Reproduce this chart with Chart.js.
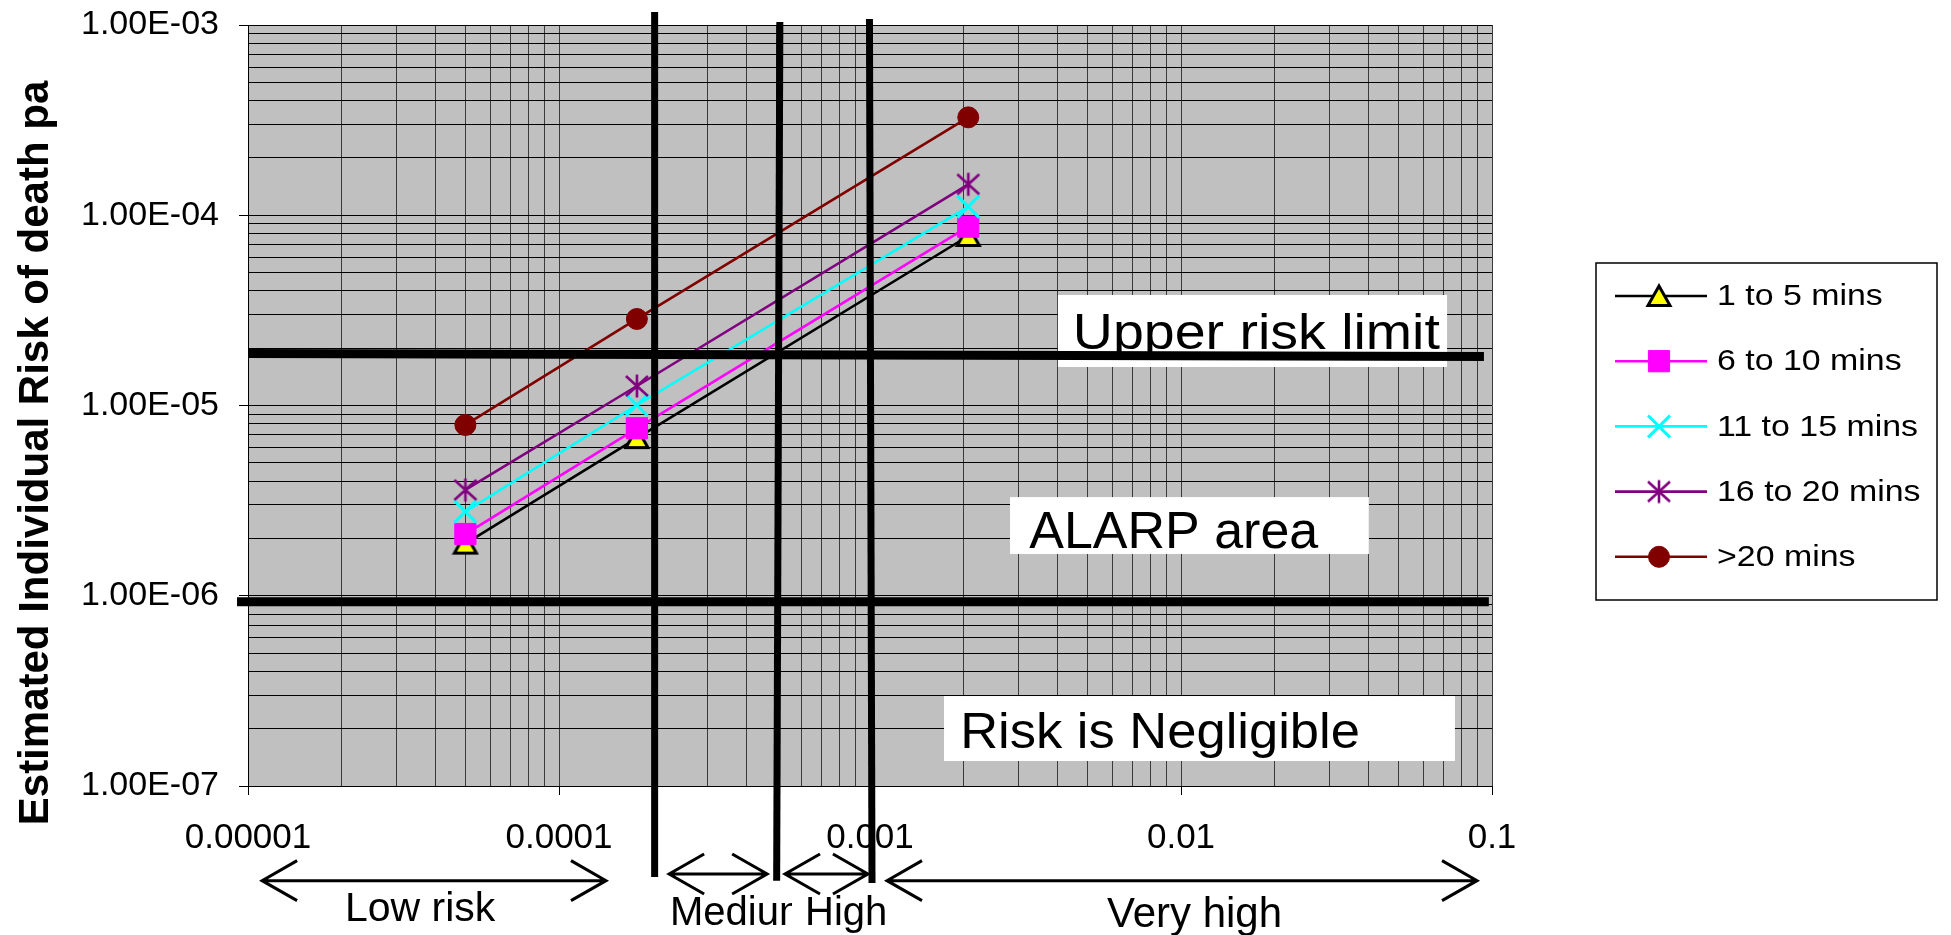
<!DOCTYPE html>
<html>
<head>
<meta charset="utf-8">
<script src="https://cdn.jsdelivr.net/npm/chart.js@4.4.0/dist/chart.umd.min.js"></script>
<style>
html, body { margin: 0; padding: 0; background: #fff; }
#wrap { width: 1951px; height: 935px; }
</style>
</head>
<body>
<div id="wrap"><canvas id="risk_chart" width="1951" height="935"></canvas></div>
<script>
// frequency of event (x) and estimated individual risk (y)
const frequency = [5e-5, 1.78e-4, 2.07e-3]
const series_names = ['1 to 5 mins', '6 to 10 mins', '11 to 15 mins', '16 to 20 mins', '>20 mins']
const risk_1_5 = [1.88e-6, 6.74e-6, 7.78e-5]
const risk_6_10 = [2.11e-6, 7.59e-6, 8.71e-5]
const risk_11_15 = [2.77e-6, 1.006e-5, 1.11e-4]
const risk_16_20 = [3.60e-6, 1.266e-5, 1.455e-4]
const risk_over_20 = [7.90e-6, 2.85e-5, 3.27e-4]

const x_ticks = [1e-5, 1e-4, 1e-3, 1e-2, 1e-1]
const x_tick_labels = ['0.00001', '0.0001', '0.001', '0.01', '0.1']
const y_ticks = [1e-7, 1e-6, 1e-5, 1e-4, 1e-3]
const y_tick_labels = ['1.00E-07', '1.00E-06', '1.00E-05', '1.00E-04', '1.00E-03']

// hand drawn thick lines, [x, y] end points in data units
const upper_limit_line = [[1e-5, 1.877e-5], [0.0942, 1.81e-5]]
const lower_limit_line = [[9.22e-6, 9.3e-7], [0.0977, 9.3e-7]]
const low_medium_line = [[2.03e-4, 1.17e-3], [2.03e-4, 3.32e-8]]
const medium_high_line = [[5.13e-4, 1.037e-3], [5.01e-4, 3.18e-8]]
const high_vhigh_line = [[9.96e-4, 1.075e-3], [1.015e-3, 3.09e-8]]

// band arrows under the axis: [from x, to x, y]
const band_arrows = [[1.11e-5, 1.416e-4, 3.18e-8], [2.26e-4, 4.67e-4, 3.45e-8], [5.33e-4, 9.85e-4, 3.45e-8], [1.134e-3, 0.0895, 3.18e-8]]
const band_names = ['Low risk', 'Medium', 'High', 'Very high']
const band_label_x = [2.05e-5, 2.275e-4, 6.18e-4, 5.78e-3]
const band_label_y = [1.94e-8, 1.86e-8, 1.86e-8, 1.82e-8]
const medium_clip_x = 5.61e-4

// white text boxes in the plot: [x0, x1, y0, y1, text x, text y]
const box_texts = ['Upper risk limit', 'ALARP area', 'Risk is Negligible']
const box_areas = [
    [4.02e-3, 0.0717, 3.81e-5, 1.594e-5, 4.49e-3, 1.97e-5],
    [2.82e-3, 0.0402, 3.30e-6, 1.657e-6, 3.25e-3, 1.78e-6],
    [1.73e-3, 0.0760, 2.97e-7, 1.353e-7, 1.95e-3, 1.584e-7]
]

const FONT = '"Liberation Sans", Arial, sans-serif'

function make_triangle() {
    const c = document.createElement('canvas')
    c.width = 28
    c.height = 26
    const g = c.getContext('2d')
    g.beginPath()
    g.moveTo(14, 3)
    g.lineTo(25, 22.5)
    g.lineTo(3, 22.5)
    g.closePath()
    g.fillStyle = '#ffff00'
    g.fill()
    g.lineWidth = 3
    g.strokeStyle = '#000'
    g.stroke()
    return c
}

function make_asterisk() {
    const c = document.createElement('canvas')
    c.width = 26
    c.height = 26
    const g = c.getContext('2d')
    g.strokeStyle = '#800080'
    g.lineWidth = 2.6
    g.beginPath()
    g.moveTo(13, 1.5); g.lineTo(13, 24.5)
    g.moveTo(2, 3); g.lineTo(24, 23)
    g.moveTo(2, 23); g.lineTo(24, 3)
    g.stroke()
    return c
}

const triangle_img = make_triangle()
const asterisk_img = make_asterisk()

function points(xs, ys) {
    return xs.map((x, i) => ({x: x, y: ys[i]}))
}
function pairs(list) {
    return list.map(p => ({x: p[0], y: p[1]}))
}

const series_styles = [
    {color: '#000000', pointStyle: triangle_img, radius: 11, bg: '#ffff00', bw: 0},
    {color: '#ff00ff', pointStyle: 'rect', radius: 15, bg: '#ff00ff', bw: 1},
    {color: '#00ffff', pointStyle: 'crossRot', radius: 15.5, bg: '#00ffff', bw: 3},
    {color: '#800080', pointStyle: asterisk_img, radius: 11, bg: '#800080', bw: 0},
    {color: '#800000', pointStyle: 'circle', radius: 10.5, bg: '#800000', bw: 1}
]
const series_values = [risk_1_5, risk_6_10, risk_11_15, risk_16_20, risk_over_20]

const datasets = series_values.map((vals, i) => ({
    label: series_names[i],
    data: points(frequency, vals),
    borderColor: series_styles[i].color,
    borderWidth: 2.6,
    pointStyle: series_styles[i].pointStyle,
    pointRadius: series_styles[i].radius,
    pointBackgroundColor: series_styles[i].bg,
    pointBorderColor: series_styles[i].color,
    pointBorderWidth: series_styles[i].bw,
    order: 50 - i * 10
}))

function thick_line(list, width) {
    return {
        label: '',
        data: pairs(list),
        borderColor: '#000',
        borderWidth: width,
        pointRadius: 0,
        borderCapStyle: 'butt',
        clip: false,
        order: 0
    }
}
datasets.push(thick_line(upper_limit_line, 9))
datasets.push(thick_line(lower_limit_line, 9))
datasets.push(thick_line(low_medium_line, 7))
datasets.push(thick_line(medium_high_line, 7))
datasets.push(thick_line(high_vhigh_line, 7))

function log_ticks(majors) {
    const out = []
    for (let i = 0; i < majors.length - 1; i++) {
        for (let k = 1; k <= 9; k++) out.push({value: majors[i] * k, major: k === 1})
    }
    out.push({value: majors[majors.length - 1], major: true})
    return out
}

function stretched_text(ctx, text, x, y, font, sx) {
    ctx.save()
    ctx.font = font
    ctx.translate(x, y)
    ctx.scale(sx, 1)
    ctx.fillText(text, 0, 0)
    ctx.restore()
}

const background = {
    id: 'background',
    beforeDraw(chart) {
        const ctx = chart.ctx
        const a = chart.chartArea
        ctx.save()
        ctx.fillStyle = '#fff'
        ctx.fillRect(0, 0, chart.width, chart.height)
        ctx.fillStyle = '#c0c0c0'
        ctx.fillRect(a.left, a.top, a.right - a.left, a.bottom - a.top)
        ctx.restore()
    }
}

const text_boxes = {
    id: 'text_boxes',
    beforeDatasetsDraw(chart) {
        const ctx = chart.ctx
        const xs = chart.scales.x
        const ys = chart.scales.y
        const sizes = [[50, 1.11], [52, 1.0], [50, 1.05]]
        ctx.save()
        box_areas.forEach((b, i) => {
            const x0 = xs.getPixelForValue(b[0])
            const x1 = xs.getPixelForValue(b[1])
            const y0 = ys.getPixelForValue(b[2])
            const y1 = ys.getPixelForValue(b[3])
            ctx.fillStyle = '#fff'
            ctx.fillRect(x0, y0, x1 - x0, y1 - y0)
            ctx.fillStyle = '#000'
            ctx.textAlign = 'left'
            ctx.textBaseline = 'alphabetic'
            stretched_text(ctx, box_texts[i], xs.getPixelForValue(b[4]), ys.getPixelForValue(b[5]),
                sizes[i][0] + 'px ' + FONT, sizes[i][1])
        })
        ctx.restore()
    }
}

const annotations = {
    id: 'annotations',
    afterDraw(chart) {
        const ctx = chart.ctx
        const xs = chart.scales.x
        const ys = chart.scales.y
        ctx.save()

        // band arrows and labels below the axis
        ctx.strokeStyle = '#000'
        ctx.lineWidth = 3
        ctx.lineCap = 'butt'
        ctx.lineJoin = 'miter'
        band_arrows.forEach(a => {
            const x0 = xs.getPixelForValue(a[0])
            const x1 = xs.getPixelForValue(a[1])
            const y = ys.getPixelForValue(a[2])
            ctx.beginPath()
            ctx.moveTo(x0, y); ctx.lineTo(x1, y)
            ctx.moveTo(x0 + 35, y - 20); ctx.lineTo(x0, y); ctx.lineTo(x0 + 35, y + 20)
            ctx.moveTo(x1 - 35, y - 20); ctx.lineTo(x1, y); ctx.lineTo(x1 - 35, y + 20)
            ctx.stroke()
        })
        ctx.fillStyle = '#000'
        ctx.textAlign = 'left'
        ctx.textBaseline = 'alphabetic'
        const band_fonts = [41, 40, 40, 42]
        band_names.forEach((name, i) => {
            const x = xs.getPixelForValue(band_label_x[i])
            const y = ys.getPixelForValue(band_label_y[i])
            ctx.save()
            if (name === 'Medium') {
                const cx = xs.getPixelForValue(medium_clip_x)
                ctx.beginPath()
                ctx.rect(x - 5, y - 60, cx - x + 5, 90)
                ctx.clip()
            }
            ctx.font = band_fonts[i] + 'px ' + FONT
            ctx.fillText(name, x, y)
            ctx.restore()
        })

        // y axis title
        ctx.save()
        ctx.translate(36, 453)
        ctx.rotate(-Math.PI / 2)
        ctx.textAlign = 'center'
        ctx.textBaseline = 'middle'
        ctx.font = 'bold 42px ' + FONT
        ctx.fillText('Estimated Individual Risk of death pa', 0, 0)
        ctx.restore()

        // legend
        const lx = 1596, ly = 263, lw = 341, lh = 337
        ctx.fillStyle = '#fff'
        ctx.fillRect(lx, ly, lw, lh)
        ctx.strokeStyle = '#000'
        ctx.lineWidth = 1.5
        ctx.strokeRect(lx, ly, lw, lh)
        series_names.forEach((name, i) => {
            const st = series_styles[i]
            const y = 296 + i * 65.2
            ctx.strokeStyle = st.color
            ctx.lineWidth = 2.6
            ctx.beginPath()
            ctx.moveTo(1615, y)
            ctx.lineTo(1707, y)
            ctx.stroke()
            ctx.fillStyle = st.bg
            ctx.strokeStyle = st.color
            ctx.lineWidth = st.bw
            Chart.helpers.drawPoint(ctx, {pointStyle: st.pointStyle, radius: st.radius, rotation: 0, borderWidth: st.bw}, 1659, y)
            ctx.fillStyle = '#000'
            ctx.textBaseline = 'middle'
            stretched_text(ctx, name, 1717, y + 1, '30px ' + FONT, 1.13)
        })
        ctx.restore()
    }
}

Chart.defaults.font.family = FONT
Chart.defaults.color = '#000'

new Chart(document.getElementById('risk_chart'), {
    type: 'line',
    data: {datasets: datasets},
    options: {
        responsive: false,
        animation: false,
        events: [],
        devicePixelRatio: 1,
        layout: {padding: {left: 0, top: 25, right: 459, bottom: 0}},
        plugins: {legend: {display: false}, tooltip: {enabled: false}},
        scales: {
            x: {
                type: 'logarithmic',
                min: 1e-5,
                max: 0.1,
                afterFit: s => { s.height = 149; s.paddingLeft = 0; s.paddingRight = 0 },
                afterBuildTicks: s => { s.ticks = log_ticks(x_ticks) },
                grid: {
                    color: '#3a3a3a',
                    lineWidth: 1,
                    tickLength: 9,
                    tickColor: c => (c.tick && c.tick.major ? '#000' : 'rgba(0,0,0,0)')
                },
                border: {display: true, color: '#000', width: 1},
                ticks: {
                    autoSkip: false,
                    maxRotation: 0,
                    minRotation: 0,
                    padding: 22,
                    font: {size: 35},
                    callback: (v, i, t) => (t[i].major ? x_tick_labels[x_ticks.indexOf(v)] : '')
                }
            },
            y: {
                type: 'logarithmic',
                min: 1e-7,
                max: 1e-3,
                afterFit: s => { s.width = 248; s.paddingTop = 0; s.paddingBottom = 0 },
                afterBuildTicks: s => { s.ticks = log_ticks(y_ticks) },
                grid: {
                    color: '#000',
                    lineWidth: 1,
                    tickLength: 9,
                    tickColor: c => (c.tick && c.tick.major ? '#000' : 'rgba(0,0,0,0)')
                },
                border: {display: true, color: '#000', width: 1},
                ticks: {
                    autoSkip: false,
                    padding: 20,
                    font: {size: 34},
                    callback: (v, i, t) => (t[i].major ? y_tick_labels[y_ticks.indexOf(v)] : '')
                }
            }
        }
    },
    plugins: [background, text_boxes, annotations]
})
</script>
</body>
</html>
